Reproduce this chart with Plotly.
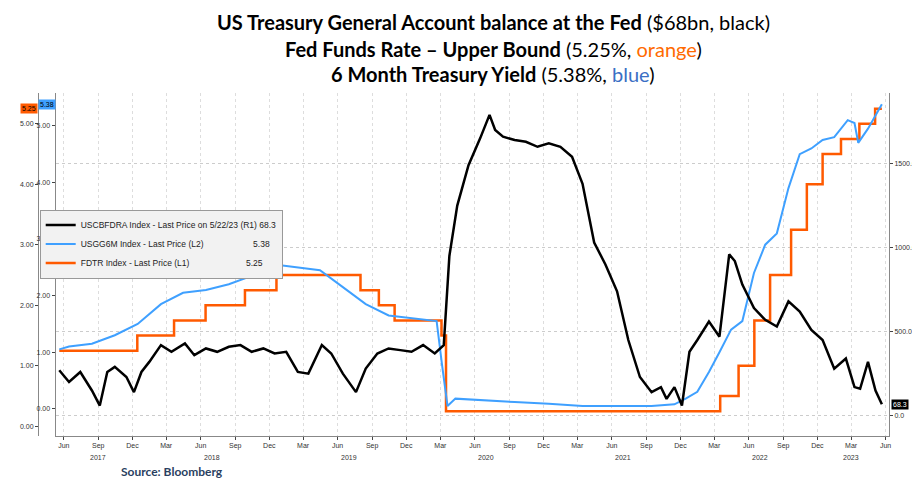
import plotly.graph_objects as go

# TGA balance, $bn (R1)
tga_dates = ["2017-05-20", "2017-06-15", "2017-07-15", "2017-08-15", "2017-09-05", "2017-09-25", "2017-10-15",
             "2017-11-15", "2017-12-05", "2017-12-25", "2018-01-15", "2018-02-15", "2018-03-15", "2018-04-20",
             "2018-05-15", "2018-06-15", "2018-07-15", "2018-08-15", "2018-09-15", "2018-10-15", "2018-11-15",
             "2018-12-15", "2019-01-15", "2019-02-15", "2019-03-15", "2019-04-20", "2019-05-15", "2019-06-15",
             "2019-07-20", "2019-08-15", "2019-09-15", "2019-10-15", "2019-11-15", "2019-12-15", "2020-01-15",
             "2020-02-15", "2020-03-10", "2020-03-25", "2020-04-15", "2020-05-15", "2020-06-15", "2020-07-10",
             "2020-07-25", "2020-08-15", "2020-09-15", "2020-10-15", "2020-11-15", "2020-12-15", "2021-01-15",
             "2021-02-15", "2021-03-15", "2021-04-15", "2021-05-15", "2021-06-15", "2021-07-15", "2021-08-15",
             "2021-09-15", "2021-10-10", "2021-10-25", "2021-11-15", "2021-12-05", "2021-12-25", "2022-01-15",
             "2022-02-15", "2022-03-15", "2022-04-10", "2022-04-25", "2022-05-15", "2022-06-15", "2022-07-15",
             "2022-08-15", "2022-09-15", "2022-10-15", "2022-11-15", "2022-12-15", "2023-01-15", "2023-02-15",
             "2023-03-10", "2023-03-25", "2023-04-15", "2023-05-05", "2023-05-22"]
tga_values = [270, 200, 260, 150, 60, 260, 290, 230, 140, 260, 320, 420, 380, 430, 360, 400, 380, 410, 420, 380,
              400, 370, 380, 260, 250, 420, 370, 250, 140, 280, 370, 400, 390, 380, 420, 370, 420, 950, 1250,
              1490, 1650, 1790, 1700, 1660, 1640, 1630, 1600, 1620, 1600, 1540, 1380, 1030, 900, 740, 450, 230,
              140, 170, 100, 170, 60, 380, 450, 560, 470, 960, 920, 780, 640, 570, 530, 680, 620, 510, 450, 280,
              340, 170, 160, 320, 150, 68.3]

# 6 month Treasury yield, % (L2)
yld_dates = ["2017-05-20", "2017-06-15", "2017-08-15", "2017-10-15", "2017-12-15", "2018-02-15", "2018-04-15",
             "2018-06-15", "2018-08-15", "2018-10-15", "2018-12-15", "2019-02-15", "2019-04-15", "2019-06-15",
             "2019-08-15", "2019-10-15", "2019-12-15", "2020-02-20", "2020-03-05", "2020-03-20", "2020-04-10",
             "2020-06-15", "2020-09-15", "2020-12-15", "2021-03-15", "2021-06-15", "2021-09-15", "2021-11-15",
             "2021-12-15", "2022-01-15", "2022-02-15", "2022-03-15", "2022-04-15", "2022-05-15", "2022-06-15",
             "2022-07-15", "2022-08-15", "2022-09-15", "2022-10-15", "2022-11-15", "2022-12-15", "2023-01-15",
             "2023-02-20", "2023-03-10", "2023-03-20", "2023-04-15", "2023-05-22"]
yld_values = [1.05, 1.1, 1.15, 1.3, 1.5, 1.85, 2.05, 2.1, 2.2, 2.35, 2.55, 2.5, 2.45, 2.15, 1.85, 1.65, 1.6,
              1.55, 0.8, 0.05, 0.18, 0.16, 0.12, 0.09, 0.05, 0.05, 0.05, 0.08, 0.18, 0.3, 0.65, 1.0, 1.4, 1.55,
              2.4, 2.9, 3.1, 3.9, 4.5, 4.6, 4.75, 4.8, 5.1, 5.05, 4.7, 4.95, 5.38]

# Fed funds rate upper bound, % (L1)
fdtr_dates = ["2017-05-20", "2017-12-14", "2018-03-22", "2018-06-14", "2018-09-27", "2018-12-20", "2019-08-01",
              "2019-09-19", "2019-10-31", "2020-03-04", "2020-03-16", "2022-03-17", "2022-05-05", "2022-06-16",
              "2022-07-28", "2022-09-22", "2022-11-03", "2022-12-15", "2023-02-02", "2023-03-23", "2023-05-04",
              "2023-05-22"]
fdtr_values = [1.25, 1.5, 1.75, 2.0, 2.25, 2.5, 2.25, 2.0, 1.75, 1.5, 0.25, 0.5, 1.0, 1.75, 2.5, 3.25, 4.0, 4.5,
               4.75, 5.0, 5.25, 5.25]

tick_dates = []
tick_text = []
for y in range(2017, 2024):
    for m, lab in [(3, "Mar"), (6, "Jun"), (9, "Sep"), (12, "Dec")]:
        if (y, m) < (2017, 6):
            continue
        tick_dates.append(f"{y}-{m:02d}-01")
        tick_text.append(lab)
tick_dates.append("2023-06-01")
tick_text.append("Jun")
year_pos = {"2017": "2017-09-01", "2018": "2018-07-01", "2019": "2019-07-01", "2020": "2020-07-01",
            "2021": "2021-07-01", "2022": "2022-07-01", "2023": "2023-03-01"}

fig = go.Figure()
fig.add_trace(go.Scatter(x=tga_dates, y=tga_values, yaxis="y3", mode="lines",
                         line=dict(color="black", width=2.5),
                         name="USCBFDRA Index - Last Price on 5/22/23 (R1) 68.3"))
fig.add_trace(go.Scatter(x=yld_dates, y=yld_values, yaxis="y2", mode="lines",
                         line=dict(color="#3FA0FF", width=2),
                         name="USGG6M Index - Last Price (L2)&nbsp;&nbsp;&nbsp;&nbsp;&nbsp;&nbsp;&nbsp;&nbsp;&nbsp;&nbsp;&nbsp;&nbsp;&nbsp;&nbsp;&nbsp;&nbsp;&nbsp;&nbsp;&nbsp;&nbsp; 5.38"))
fig.add_trace(go.Scatter(x=fdtr_dates, y=fdtr_values, yaxis="y", mode="lines", line_shape="hv",
                         line=dict(color="#FF5A00", width=2.5),
                         name="FDTR Index - Last Price (L1)&nbsp;&nbsp;&nbsp;&nbsp;&nbsp;&nbsp;&nbsp;&nbsp;&nbsp;&nbsp;&nbsp;&nbsp;&nbsp;&nbsp;&nbsp;&nbsp;&nbsp;&nbsp;&nbsp;&nbsp;&nbsp;&nbsp;&nbsp; 5.25"))

small = dict(size=7, color="#333")
fig.update_layout(
    width=920, height=480, plot_bgcolor="white", paper_bgcolor="white",
    margin=dict(l=20, r=28, t=85, b=52),
    font=dict(family="Liberation Sans", size=8),
    xaxis=dict(domain=[0.0206, 1], range=["2017-05-10", "2023-06-10"], tickvals=tick_dates, ticktext=tick_text,
               tickfont=small, showgrid=True, gridcolor="#ddd", griddash="dot", showline=True,
               linecolor="#888", ticks="outside", ticklen=3, zeroline=False),
    yaxis=dict(range=[-0.16, 5.51], tickvals=[0, 1, 2, 3, 4, 5], tickformat=".2f", tickfont=small,
               anchor="free", position=0, showline=True, linecolor="#888", ticks="outside", ticklen=3,
               showgrid=False, zeroline=False),
    yaxis2=dict(range=[-0.48, 5.58], tickvals=[0, 1, 2, 3, 4, 5], tickformat=".2f", tickfont=small,
                overlaying="y", anchor="x", side="left", showline=True, linecolor="#888", ticks="outside",
                ticklen=3, showgrid=False, zeroline=False),
    yaxis3=dict(range=[-121, 1920], tickvals=[0, 500, 1000, 1500], tickformat=".1f", tickfont=small,
                overlaying="y", anchor="x", side="right", showline=True, linecolor="#888", ticks="outside",
                ticklen=3, showgrid=True, gridcolor="#ccc", griddash="dot", zeroline=False),
    legend=dict(x=0.002, y=0.66, xanchor="left", yanchor="top", bgcolor="#f2f2f2", bordercolor="#999",
                borderwidth=1, font=dict(size=8.5, color="#222"), itemwidth=30, tracegroupgap=0),
    showlegend=True,
)

titles = [
    ("<b>US Treasury General Account balance at the Fed</b> ($68bn, black)", 14),
    ("<b>Fed Funds Rate – Upper Bound</b> (5.25%, <span style='color:#FF6A00'>orange</span>)", 41),
    ("<b>6 Month Treasury Yield</b> (5.38%, <span style='color:#3A6FC4'>blue</span>)", 66),
]
for txt, ypx in titles:
    fig.add_annotation(text=txt, xref="paper", yref="paper", x=0.535, y=1, yshift=85 - ypx,
                       showarrow=False, font=dict(family="Lato", size=20, color="black"), yanchor="middle")

for yr, d in year_pos.items():
    fig.add_annotation(text=yr, x=d, xref="x", yref="paper", y=0, yshift=-16, showarrow=False, font=small,
                       yanchor="top")
fig.add_annotation(text="<b>Source: Bloomberg</b>", xref="paper", yref="paper", x=0.095, y=0, yshift=-26,
                   xanchor="left", yanchor="top", showarrow=False, font=dict(family="Lato", size=12))

fig.add_annotation(text="5.25", xref="paper", yref="y", x=-0.021, y=5.25, xanchor="left", showarrow=False,
                   font=dict(size=7, color="black"), bgcolor="#FF5A00")
fig.add_annotation(text="5.38", xref="paper", yref="y2", x=0.0, y=5.38, xanchor="left", showarrow=False,
                   font=dict(size=7, color="black"), bgcolor="#3FA0FF")
fig.add_annotation(text="68.3", xref="paper", yref="y3", x=1.002, y=68.3, xanchor="left", showarrow=False,
                   font=dict(size=7, color="white"), bgcolor="black")

fig.write_html("out.html")
